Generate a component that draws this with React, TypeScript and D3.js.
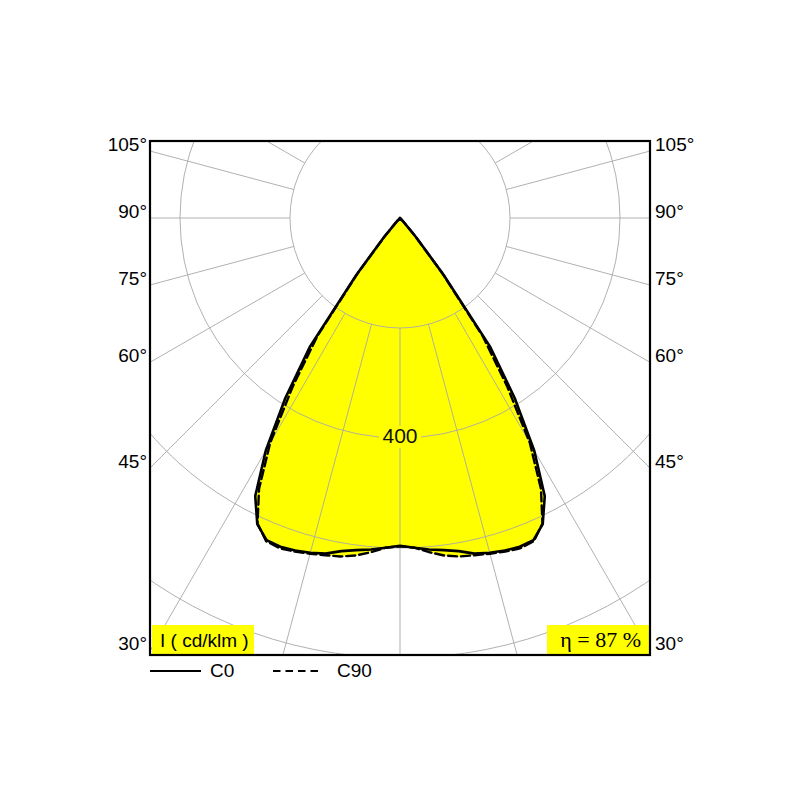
import * as d3 from 'd3';

// Luminous intensity (cd/klm) per gamma angle, measured from nadir.
// Both half-planes are symmetric, so one list per C-plane.
const GAMMA = [0, 2.5, 5, 7.5, 10, 12.5, 15, 17.5, 20, 22.5, 25, 27.5, 30, 32.5, 35, 37.5, 40, 42.5, 45];
const C0 = [596, 600, 605, 609, 615, 625, 630, 634, 636, 634, 614, 570, 488, 388, 285, 130, 45, 10, 0];
const C90 = [597, 600, 610, 619, 625, 628, 632, 636, 639, 636, 613, 555, 472, 362, 262, 125, 42, 10, 0];

const RING_VALUES = [200, 400, 600, 800];
const RING_LABEL = 400;
const SPOKE_ANGLES = [0, 15, 30, 45, 60, 75, 90, 105, 120, 135, 150, 165, 180, 195, 210, 225, 240, 255, 270, 285, 300, 315, 330, 345];
const SIDE_LABEL_ANGLES = [30, 45, 60, 75, 90, 105];
const UNIT_LABEL = 'I ( cd/klm )';
const EFFICIENCY_LABEL = 'η = 87 %';
const LEGEND_NAMES = ['C0', 'C90'];

const W = 800;
const H = 800;
const CX = 400;
const CY = 218;
const BOX = { left: 150, right: 650, top: 141, bottom: 655 };
const SANS = '"Liberation Sans", Arial, Helvetica, sans-serif';
const SERIF = '"Liberation Serif", "Times New Roman", serif';
const YELLOW = '#ffff00';
const GRID = '#a8a8a8';

const rScale = d3.scaleLinear().domain([0, 800]).range([0, 440]);
const rad = (deg: number) => (deg * Math.PI) / 180;

interface PolarPoint {
  a: number;
  v: number;
}

// lineRadial angle: 0 = up, clockwise. Nadir = PI.
function planePoints(values: number[]): PolarPoint[] {
  const right = GAMMA.map((g, i) => ({ a: Math.PI - rad(g), v: values[i] })).reverse();
  const left = GAMMA.slice(1).map((g, i) => ({ a: Math.PI + rad(g), v: values[i + 1] }));
  return [...right, ...left];
}

const radialLine = d3
  .lineRadial<PolarPoint>()
  .angle((d) => d.a)
  .radius((d) => rScale(d.v))
  .curve(d3.curveLinearClosed);

export default function App() {
  const c0Path = radialLine(planePoints(C0)) ?? '';
  const c90Path = radialLine(planePoints(C90)) ?? '';
  const halfWidth = BOX.right - CX;

  const sideLabelY = (deg: number) => {
    const y = CY + halfWidth / Math.tan(rad(deg));
    return Math.min(y, BOX.bottom - 5);
  };

  const spokeEnd = 800;
  const labelR = rScale(RING_LABEL);

  return (
    <svg
      width={W}
      height={H}
      viewBox={`0 0 ${W} ${H}`}
      style={{ position: 'absolute', left: 0, top: 0, background: '#ffffff' }}
    >
      <defs>
        <clipPath id="box-clip">
          <rect x={BOX.left} y={BOX.top} width={BOX.right - BOX.left} height={BOX.bottom - BOX.top} />
        </clipPath>
      </defs>
      <rect x={0} y={0} width={W} height={H} fill="#ffffff" />

      {/* yellow fill under both planes */}
      <g transform={`translate(${CX},${CY})`}>
        <path d={c90Path} fill={YELLOW} stroke="none" />
        <path d={c0Path} fill={YELLOW} stroke="none" />
      </g>

      {/* polar grid */}
      <g clipPath="url(#box-clip)">
        <g transform={`translate(${CX},${CY})`}>
          {RING_VALUES.map((v) => (
            <circle key={v} r={rScale(v)} fill="none" stroke={GRID} strokeWidth={0.9} />
          ))}
          {SPOKE_ANGLES.map((deg) => {
            const a = rad(deg);
            const r0 = rScale(RING_VALUES[0]);
            return (
              <line
                key={deg}
                x1={r0 * Math.sin(a)}
                y1={-r0 * Math.cos(a)}
                x2={spokeEnd * Math.sin(a)}
                y2={-spokeEnd * Math.cos(a)}
                stroke={GRID}
                strokeWidth={0.9}
              />
            );
          })}
        </g>
      </g>

      {/* ring value label */}
      <rect x={CX - 21} y={CY + labelR - 12} width={42} height={22} fill={YELLOW} />
      <text
        x={CX}
        y={CY + labelR + 5}
        textAnchor="middle"
        fontFamily={SANS}
        fontSize={21}
        fill="#111111"
      >
        {RING_LABEL}
      </text>

      {/* intensity curves */}
      <g transform={`translate(${CX},${CY})`} fill="none" strokeLinejoin="round" strokeLinecap="round">
        <path d={c90Path} stroke="#000000" strokeWidth={2.4} strokeDasharray="9 4" />
        <path d={c0Path} stroke="#000000" strokeWidth={2.6} />
      </g>

      {/* annotation boxes */}
      <rect x={152} y={625} width={102} height={BOX.bottom - 625} fill={YELLOW} />
      <text x={160} y={647} fontFamily={SANS} fontSize={19} fill="#000000">
        {UNIT_LABEL}
      </text>
      <rect x={547} y={625} width={BOX.right - 547} height={BOX.bottom - 625} fill={YELLOW} />
      <text x={641} y={647} textAnchor="end" fontFamily={SERIF} fontSize={22} fill="#000000">
        {EFFICIENCY_LABEL}
      </text>

      {/* frame */}
      <rect
        x={BOX.left}
        y={BOX.top}
        width={BOX.right - BOX.left}
        height={BOX.bottom - BOX.top}
        fill="none"
        stroke="#000000"
        strokeWidth={2.2}
      />

      {/* side angle labels */}
      {SIDE_LABEL_ANGLES.map((deg) => (
        <g key={deg} fontFamily={SANS} fontSize={19} fill="#000000">
          <text x={BOX.left - 3} y={sideLabelY(deg)} textAnchor="end">
            {`${deg}°`}
          </text>
          <text x={BOX.right + 5} y={sideLabelY(deg)} textAnchor="start">
            {`${deg}°`}
          </text>
        </g>
      ))}

      {/* legend */}
      <line x1={150} x2={201} y1={671} y2={671} stroke="#000000" strokeWidth={2} />
      <text x={210} y={677} fontFamily={SANS} fontSize={19} fill="#000000">
        {LEGEND_NAMES[0]}
      </text>
      <line x1={273} x2={318} y1={671} y2={671} stroke="#000000" strokeWidth={2} strokeDasharray="7.5 5" />
      <text x={337} y={677} fontFamily={SANS} fontSize={19} fill="#000000">
        {LEGEND_NAMES[1]}
      </text>
    </svg>
  );
}
